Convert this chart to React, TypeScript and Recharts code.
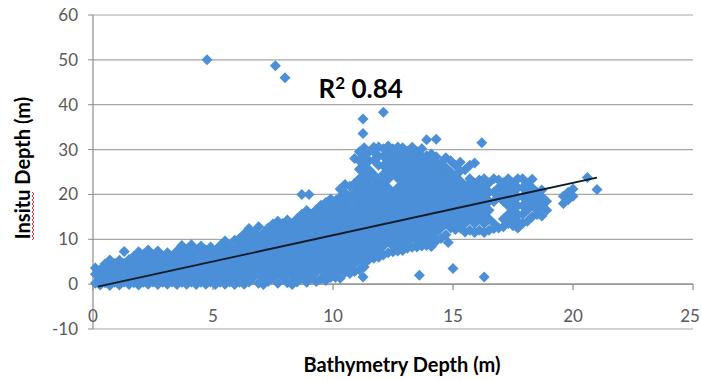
import { ScatterChart, Scatter, XAxis, YAxis, CartesianGrid, ReferenceLine, ReferenceDot } from "recharts";

// x ticks / y ticks
const xTicks = [0, 5, 10, 15, 20, 25];
const yTicks = [-10, 0, 10, 20, 30, 40, 50, 60];

const cloud: Array<[number, number[]]> = [
  [0.1, [0.2, 2.2, 3.6]],
  [0.3, [-0.2, 1.3, 3.2]],
  [0.5, [0.3, 2.4, 4.5]],
  [0.7, [-0.3, 1.4, 3.5, 5.4]],
  [0.9, [0.4, 2.5, 4.6]],
  [1.1, [-0.2, 1.5, 3.4, 5.3]],
  [1.3, [0.5, 2.6, 4.6, 7.3]],
  [1.5, [-0.1, 1.6, 3.5, 5.5]],
  [1.7, [0.3, 2.4, 4.4, 6.2]],
  [1.9, [-0.2, 1.5, 3.4, 5.4, 7.2]],
  [2.1, [0.4, 2.5, 4.5, 6.6]],
  [2.3, [0, 1.6, 3.5, 5.5, 7.6]],
  [2.5, [0.5, 2.4, 4.4, 6.5]],
  [2.7, [-0.1, 1.5, 3.5, 5.6, 7.4]],
  [2.9, [0.4, 2.5, 4.5, 6.3]],
  [3.1, [0, 1.6, 3.6, 5.4, 7.0]],
  [3.3, [0.5, 2.5, 4.4, 6.3]],
  [3.5, [-0.1, 1.5, 3.5, 5.5, 7.4]],
  [3.7, [0.4, 2.6, 4.6, 6.6, 8.6]],
  [3.9, [0, 1.5, 3.5, 5.5, 7.6]],
  [4.1, [0.5, 2.4, 4.5, 6.5, 8.8]],
  [4.3, [-0.1, 1.6, 3.6, 5.6, 7.5]],
  [4.5, [0.4, 2.5, 4.4, 6.4, 8.5]],
  [4.7, [0, 1.5, 3.5, 5.5, 7.6]],
  [4.9, [0.5, 2.6, 4.5, 6.5, 8.3]],
  [5.1, [-0.1, 1.5, 3.4, 5.4, 7.4]],
  [5.3, [0.4, 2.4, 4.5, 6.5, 8.6]],
  [5.5, [0, 1.6, 3.6, 5.6, 7.5, 9.6]],
  [5.7, [0.5, 2.5, 4.5, 6.5, 8.5]],
  [5.9, [-0.1, 1.5, 3.5, 5.5, 7.6, 9.8]],
  [6.1, [0.4, 2.4, 4.5, 6.6, 8.6, 10.2]],
  [6.3, [0, 1.6, 3.6, 5.5, 7.5, 9.5, 11.2]],
  [6.5, [0.5, 2.5, 4.5, 6.5, 8.5, 10.5, 12.4]],
  [6.7, [1.6, 3.5, 5.5, 7.6, 9.6, 11.5]],
  [6.9, [0.2, 2.5, 4.5, 6.5, 8.5, 10.6, 12.8]],
  [7.1, [-0.1, 1.5, 3.6, 5.6, 7.5, 9.5, 11.4]],
  [7.3, [0.6, 2.6, 4.5, 6.6, 8.6, 10.5, 12.5]],
  [7.5, [1.5, 3.5, 5.5, 7.5, 9.6, 11.6, 13.4]],
  [7.7, [0.2, 2.5, 4.5, 6.5, 8.5, 10.5, 12.5, 14.0]],
  [7.9, [1.5, 3.6, 5.6, 7.6, 9.5, 11.5, 13.5]],
  [8.1, [0.3, 2.5, 4.5, 6.5, 8.6, 10.6, 12.6, 14.3]],
  [8.3, [-0.1, 1.6, 3.5, 5.5, 7.5, 9.6, 11.5, 13.5]],
  [8.5, [0.5, 2.5, 4.6, 6.6, 8.5, 10.5, 12.6, 14.6]],
  [8.7, [1.6, 3.5, 5.5, 7.5, 9.5, 11.5, 13.5, 15.6]],
  [8.9, [0.4, 2.5, 4.5, 6.5, 8.5, 10.6, 12.5, 14.5, 16.4]],
  [9.1, [1.5, 3.5, 5.6, 7.6, 9.5, 11.5, 13.6, 15.5]],
  [9.3, [0.6, 2.6, 4.5, 6.5, 8.5, 10.5, 12.5, 14.6, 16.6]],
  [9.5, [1.2, 3.5, 5.5, 7.5, 9.6, 11.5, 13.5, 15.5, 17.6]],
  [9.7, [0.8, 2.5, 4.6, 6.5, 8.5, 10.6, 12.5, 14.5, 16.5, 18.2]],
  [9.9, [1.5, 3.5, 5.5, 7.6, 9.5, 11.5, 13.6, 15.5, 17.5, 19.0]],
  [10.1, [2.6, 4.5, 6.5, 8.5, 10.5, 12.5, 14.6, 16.5, 18.6]],
  [10.3, [1.3, 3.5, 5.5, 7.5, 9.6, 11.6, 13.5, 15.5, 17.5, 19.5, 21.2]],
  [10.5, [2.6, 4.5, 6.6, 8.5, 10.5, 12.5, 14.5, 16.6, 18.3, 20.4, 22.2]],
  [10.7, [2.4, 3.6, 5.5, 7.5, 9.5, 11.6, 13.5, 15.5, 17.2, 19.5, 21.8]],
  [10.9, [2.8, 4.6, 6.5, 8.5, 10.5, 12.5, 14.6, 16.5, 18.5, 20.5, 22.5, 28.0]],
  [11.1, [3.2, 5.5, 7.5, 9.6, 11.5, 13.5, 15.5, 17.5, 19.5, 21.5, 23.5, 25.6, 27.5, 29.5]],
  [11.3, [3.8, 4.6, 6.5, 8.5, 10.5, 12.6, 14.5, 16.5, 18.6, 20.5, 22.5, 24.5, 26.6, 28.5, 30.4]],
  [11.5, [5.5, 7.5, 9.5, 11.5, 13.5, 15.6, 17.5, 19.5, 21.5, 23.5, 25.5, 27.5, 29.5]],
  [11.7, [5.8, 6.6, 8.5, 10.5, 12.5, 14.5, 16.5, 18.6, 20.5, 22.2, 24.4, 27.6, 29.5, 30.5]],
  [11.9, [6.0, 7.5, 9.6, 11.5, 13.6, 15.5, 17.5, 19.5, 21.5, 23.2, 26.5, 28.5, 30.6]],
  [12.1, [6.5, 8.5, 10.5, 12.5, 14.5, 16.5, 18.5, 20.5, 22.5, 24.5, 26.4, 28.5, 30.2]],
  [12.3, [7.0, 9.5, 11.5, 13.5, 15.6, 17.5, 19.5, 21.5, 23.4, 25.5, 27.5, 29.5, 30.8]],
  [12.5, [7.2, 8.5, 10.6, 12.5, 14.5, 16.5, 18.5, 20.4, 24.6, 26.5, 28.5, 30.2]],
  [12.7, [7.4, 9.5, 11.5, 13.5, 15.5, 17.5, 19.5, 21.5, 23.6, 25.5, 27.5, 29.5, 30.6]],
  [12.9, [7.5, 8.6, 10.5, 12.5, 14.5, 16.5, 18.5, 20.5, 22.4, 24.5, 26.5, 28.5, 30.4]],
  [13.1, [8.0, 9.5, 11.5, 13.6, 15.5, 17.5, 19.5, 21.5, 23.5, 25.5, 27.5, 29.6]],
  [13.3, [8.2, 10.5, 12.5, 14.5, 16.5, 18.5, 20.5, 22.5, 24.5, 26.5, 28.5, 30.5]],
  [13.5, [8.3, 9.6, 11.5, 13.5, 15.5, 17.5, 19.6, 21.5, 23.5, 25.5, 27.5, 29.5]],
  [13.7, [8.5, 10.5, 12.5, 14.6, 16.5, 18.5, 20.5, 22.5, 24.5, 26.5, 28.5, 30.2]],
  [13.9, [8.6, 9.5, 11.5, 13.5, 15.5, 17.5, 19.5, 21.5, 23.6, 25.5, 27.5, 28.6]],
  [14.1, [8.4, 10.5, 12.5, 14.5, 16.5, 18.5, 20.5, 22.5, 24.5, 26.5, 28.0, 29.0]],
  [14.3, [9.6, 11.5, 13.5, 15.5, 17.6, 19.5, 21.5, 23.5, 25.5, 27.2, 28.4]],
  [14.5, [10.2, 12.5, 14.5, 16.5, 18.5, 20.5, 22.6, 24.5, 26.2, 27.0]],
  [14.7, [11.0, 13.5, 15.5, 17.5, 19.5, 21.5, 23.5, 25.2, 26.0, 28.2]],
  [14.9, [12.5, 14.5, 16.5, 18.6, 20.5, 22.5, 24.2, 25.0, 27.5]],
  [15.1, [12.2, 13.5, 15.5, 17.5, 19.5, 21.6, 23.4, 24.0, 26.5]],
  [15.3, [12.5, 14.5, 16.5, 18.5, 20.5, 22.4, 23.0, 25.2, 27.2]],
  [15.5, [11.6, 13.5, 15.5, 17.5, 19.5, 21.5, 22.0, 25.5]],
  [15.7, [12.0, 14.5, 16.5, 18.5, 20.5, 22.4, 23.5, 26.5]],
  [15.9, [11.5, 13.5, 15.5, 17.5, 19.6, 21.5, 22.5, 27.0]],
  [16.1, [12.0, 14.5, 16.5, 18.5, 20.5, 22.4, 23.2]],
  [16.3, [11.5, 13.5, 15.5, 17.5, 19.5, 21.5, 23.5]],
  [16.5, [12.0, 14.5, 16.5, 18.5, 20.5, 22.6]],
  [16.7, [12.4, 13.5, 18.4, 20.5, 23.5]],
  [16.9, [12.5, 19.5, 21.5, 23.2]],
  [17.1, [12.8, 14.5, 18.5, 20.5, 22.6]],
  [17.3, [13.5, 15.5, 17.5, 19.5, 21.5, 23.5]],
  [17.5, [13.0, 14.5, 16.5, 18.6, 20.5, 22.6]],
  [17.7, [12.5, 14.0, 15.5, 17.5, 19.5, 21.5, 23.5]],
  [17.9, [13.5, 15.5, 17.5, 19.5, 21.5, 23.5]],
  [18.1, [14.0, 16.5, 18.5, 20.5, 22.5]],
  [18.3, [15.0, 17.5, 19.5, 21.5, 23.4]],
  [18.5, [15.5, 16.5, 18.5, 20.5]],
  [18.7, [15.2, 17.5, 19.5, 21.0]],
  [18.9, [16.5, 18.5]],
  [19.6, [18.0, 19.6]],
  [19.8, [18.8, 20.5]],
  [20.0, [19.6, 21.2]],
];

// isolated points outside the main cloud
const outliers: Array<[number, number]> = [
  [4.75, 50], [7.6, 48.7], [8.0, 46], [12.1, 38.3], [11.25, 36.8], [11.25, 33.6],
  [13.9, 32.2], [14.3, 32.3], [16.2, 31.5], [8.7, 20], [9.0, 20],
  [11.25, 1.6], [10.1, 1.5], [13.6, 2], [15, 3.5], [16.3, 1.6], [14.8, 9.3],
  [20.6, 23.8], [21, 21.1],
];

// linear trend line
const trendSlope = 1.17;
const trendIntercept = -0.8;
const trendRange = [0.2, 21];

const points = cloud
  .flatMap(([x, ys]) => ys.map((y) => ({ x, y })))
  .concat(outliers.map(([x, y]) => ({ x, y })));
const trendPoints = trendRange.map((x) => ({ x, y: trendSlope * x + trendIntercept }));

const BLUE = "#4a8fd7";
const GRID = "#a6a6a6";
const AXIS = "#8c8c8c";
const FONT = "Lato, 'Open Sans', sans-serif";

const Diamond = (props: any) => {
  const { cx, cy } = props;
  if (cx == null || cy == null) return <g />;
  const h = 5.5;
  return <path d={`M${cx},${cy - h}L${cx + h},${cy}L${cx},${cy + h}L${cx - h},${cy}Z`} fill={BLUE} />;
};

const XTick = (props: any) => {
  const { x, y, payload } = props;
  // last label sits at the right edge of the picture, keep it inside
  const last = payload.value === xTicks[xTicks.length - 1];
  return (
    <text x={x} y={y} dx={last ? -3 : 0} dy={-7} textAnchor="middle" fill="#595959" fontSize={17} fontFamily={FONT}>
      {payload.value}
    </text>
  );
};

const YTitle = (props: any) => {
  const vb = props.viewBox || {};
  const cx = 23;
  const cy = (vb.y ?? 15) + (vb.height ?? 314) / 2 - 4;
  // red spell-check squiggle beside "Insitu"
  let sq = "";
  for (let i = 0; i <= 24; i++) {
    sq += `${i === 0 ? "M" : "L"}${cx + 9 + (i % 2 === 0 ? 0 : 2)},${cy + 24 + i * 2}`;
  }
  return (
    <g>
      <text
        x={cx}
        y={cy}
        transform={`rotate(-90, ${cx}, ${cy})`}
        textAnchor="middle"
        dy="0.35em"
        fontSize={20}
        fontWeight="bold"
        fontFamily={FONT}
        fill="#000"
      >
        Insitu Depth (m)
      </text>
      <path d={sq} stroke="#e03030" strokeWidth={1} fill="none" />
    </g>
  );
};

const XTitle = (props: any) => {
  const vb = props.viewBox || {};
  return (
    <text
      x={(vb.x ?? 93) + (vb.width ?? 600) / 2 + 9}
      y={(vb.y ?? 329) + 43}
      textAnchor="middle"
      fontSize={20}
      fontWeight="bold"
      fontFamily={FONT}
      fill="#000"
    >
      Bathymetry Depth (m)
    </text>
  );
};

const R2Label = (props: any) => {
  const vb = props.viewBox || {};
  const x = vb.x ?? 318;
  const y = vb.y ?? 97;
  return (
    <text x={x} y={y} fontSize={26} fontWeight="bold" fontFamily={FONT} fill="#000">
      R
      <tspan dy={-9} fontSize={17}>2</tspan>
      <tspan dy={9}> 0.84</tspan>
    </text>
  );
};

export default function App() {
  return (
    <div style={{ position: "absolute", left: 0, top: 0, width: 701, height: 380, background: "#fff" }}>
      <ScatterChart width={701} height={380} margin={{ top: 15, right: 8, bottom: 0, left: 0 }}>
        <CartesianGrid vertical={false} stroke={GRID} strokeWidth={1.2} />
        <XAxis
          type="number"
          dataKey="x"
          domain={[0, 25]}
          ticks={xTicks}
          axisLine={false}
          tickLine={false}
          tickSize={0}
          tickMargin={0}
          height={51}
          tick={<XTick />}
          label={{ content: <XTitle /> }}
        />
        <YAxis
          type="number"
          dataKey="y"
          domain={[-10, 60]}
          ticks={yTicks}
          width={93}
          axisLine={{ stroke: AXIS, strokeWidth: 1.2 }}
          tickLine={{ stroke: AXIS }}
          tickSize={5}
          tickMargin={10}
          tick={{ fill: "#595959", fontSize: 17, fontFamily: FONT }}
          label={{ content: <YTitle /> }}
        />
        <ReferenceLine y={0} stroke={AXIS} strokeWidth={1.2} />
        {xTicks.map((t) => (
          <ReferenceLine
            key={t}
            segment={[{ x: t, y: 0 }, { x: t, y: -1.3 }]}
            stroke={AXIS}
            strokeWidth={1.2}
            ifOverflow="visible"
          />
        ))}
        <Scatter data={points} shape={<Diamond />} isAnimationActive={false} />
        <Scatter
          data={trendPoints}
          line={{ stroke: "#0b1a2a", strokeWidth: 1.8 }}
          lineType="joint"
          shape={() => <g />}
          isAnimationActive={false}
        />
        <ReferenceDot x={9.4} y={41.6} r={0} fill="none" stroke="none" label={{ content: <R2Label /> }} />
      </ScatterChart>
    </div>
  );
}
